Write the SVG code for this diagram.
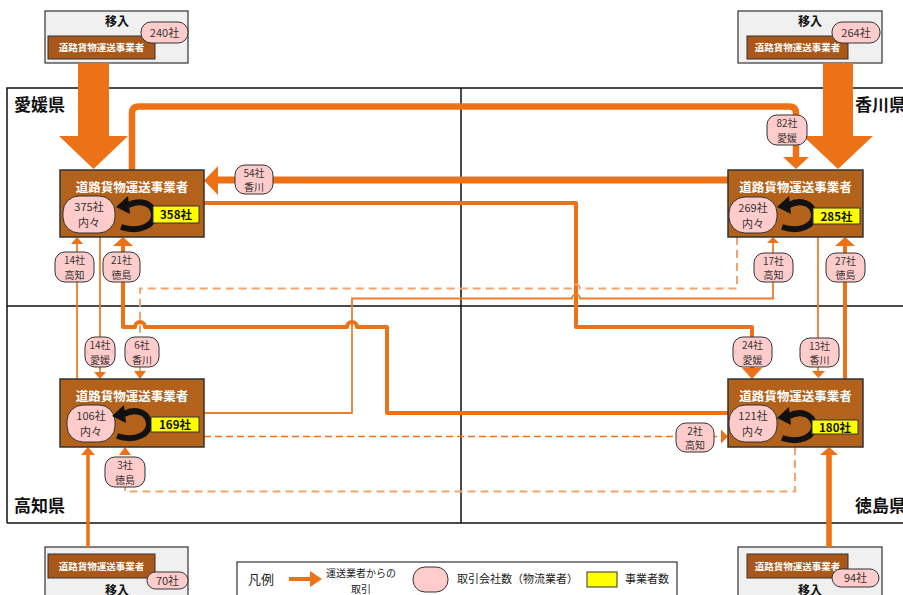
<svg xmlns="http://www.w3.org/2000/svg" width="903" height="595" viewBox="0 0 903 595">
<style>
text{font-family:"Noto Sans CJK JP","Noto Sans CJK SC",sans-serif}
.bg{fill:#fff}
.reg{fill:none;stroke:#111;stroke-width:1.5}
.rl{font-size:17px;font-weight:bold;fill:#111}
.imp{fill:#F0F0F0;stroke:#333;stroke-width:1.2}
.ib{fill:#A8581A;stroke:#333;stroke-width:1}
.it{font-size:9.5px;font-weight:bold;fill:#fff;text-anchor:middle}
.ih{font-size:12px;font-weight:bold;fill:#111;text-anchor:middle}
.node{fill:#B3621B;stroke:#333;stroke-width:1.5}
.title{fill:#fff;font-size:12.5px;font-weight:bold;text-anchor:middle}
.badge{fill:#FFCCCC;stroke:#333;stroke-width:1}
.bt{font-size:10px;fill:#333;text-anchor:middle}
.bi{font-size:11px;fill:#333;text-anchor:middle}
.yel{fill:#FFFF00;stroke:#333;stroke-width:1}
.cnt{font-size:11.5px;font-weight:bold;fill:#111;text-anchor:middle}
.loop{fill:none;stroke:#111;stroke-width:6}
.lh{fill:#111}
.ah{fill:#ED7117}
.s7{fill:none;stroke:#ED7117;stroke-width:7}
.s6{fill:none;stroke:#ED7117;stroke-width:6.5;stroke-linejoin:round}
.s4{fill:none;stroke:#ED7117;stroke-width:4;stroke-linejoin:round}
.s2{fill:none;stroke:#EE7D2A;stroke-width:1.8}
.dl{fill:none;stroke:#F4A36A;stroke-width:2;stroke-dasharray:8 5}
.dd{fill:none;stroke:#ED7117;stroke-width:1.5;stroke-dasharray:7 4}
.lg{font-size:11px;fill:#222}
</style>
<rect class="bg" x="0" y="0" width="903" height="595"/>

<g id="regions">
  <path class="reg" d="M7 523 V88 H905 M461 88 V523 M7 306 H905 M7 523 H905"/>
  <text class="rl" x="14" y="111">愛媛県</text>
  <text class="rl" x="855" y="111">香川県</text>
  <text class="rl" x="14" y="512">高知県</text>
  <text class="rl" x="855" y="512">徳島県</text>
</g>

<g id="import-ehime">
  <rect class="imp" x="45" y="11" width="143" height="52"/>
  <text class="ih" x="117" y="26">移入</text>
  <rect class="ib" x="48" y="36" width="107" height="23"/>
  <text class="it" x="101.5" y="51">道路貨物運送事業者</text>
  <rect class="badge" x="141" y="22" width="47" height="21" rx="10"/>
  <text class="bi" x="164.5" y="37">240社</text>
</g>
<g id="import-kagawa">
  <rect class="imp" x="738" y="11" width="144" height="52"/>
  <text class="ih" x="810" y="26">移入</text>
  <rect class="ib" x="747" y="36" width="101" height="23"/>
  <text class="it" x="797.5" y="51">道路貨物運送事業者</text>
  <rect class="badge" x="832" y="22" width="48" height="21" rx="10"/>
  <text class="bi" x="856" y="37">264社</text>
</g>
<g id="import-kochi">
  <rect class="imp" x="45" y="547" width="143" height="55"/>
  <rect class="ib" x="48" y="554" width="107" height="24"/>
  <text class="it" x="101.5" y="569.5">道路貨物運送事業者</text>
  <rect class="badge" x="147" y="572" width="41" height="17" rx="8.5"/>
  <text class="bi" x="167.5" y="584.5">70社</text>
  <text class="ih" x="117" y="595">移入</text>
</g>
<g id="import-tokushima">
  <rect class="imp" x="738" y="547" width="144" height="55"/>
  <rect class="ib" x="747" y="554" width="101" height="24"/>
  <text class="it" x="797.5" y="569.5">道路貨物運送事業者</text>
  <rect class="badge" x="832" y="569" width="47" height="18" rx="9"/>
  <text class="bi" x="855.5" y="582">94社</text>
  <text class="ih" x="810" y="595">移入</text>
</g>

<g id="connectors">
  <polygon class="ah" points="78,63 109,63 109,136 128,136 93.5,169 59,136 78,136"/>
  <polygon class="ah" points="823,63 853,63 853,136 873,136 838,169 803,136 823,136"/>

  <g id="c-ehime-kagawa">
    <path class="s6" d="M132 170 V113 Q132 106.5 139 106.5 H789 Q796 106.5 796 113 V158"/>
    <polygon class="ah" points="783,157 809,157 796,169"/>
    <rect class="badge" x="767" y="115" width="40" height="30" rx="10"/>
    <text class="bt" x="787" y="127">82社<tspan x="787" dy="14.5">愛媛</tspan></text>
  </g>
  <g id="c-kagawa-ehime">
    <path class="s7" d="M728 180 H217"/>
    <polygon class="ah" points="204,180.5 218,166 218,195"/>
    <rect class="badge" x="235" y="165" width="38" height="29" rx="10"/>
    <text class="bt" x="254" y="176.5">54社<tspan x="254" dy="14.5">香川</tspan></text>
  </g>
  <g id="c-ehime-tokushima">
    <path class="s4" d="M204 203 H576 V327 H752 V369"/>
    <polygon class="ah" points="742,368 762,368 752,379"/>
    <rect class="badge" x="733" y="337" width="39" height="30" rx="10"/>
    <text class="bt" x="752.5" y="349">24社<tspan x="752.5" dy="14.5">愛媛</tspan></text>
  </g>
  <g id="c-kagawa-kochi">
    <path class="dl" d="M737 237 V288.5 H580 A4 4 0 0 0 572 288.5 H140 V371"/>
    <polygon class="ah" points="134,371 146,371 140,379"/>
    <rect class="badge" x="125" y="337" width="34" height="30" rx="10"/>
    <text class="bt" x="142" y="349">6社<tspan x="142" dy="14.5">香川</tspan></text>
  </g>
  <g id="c-kochi-kagawa">
    <path class="s2" d="M204 413 H352 V298.5 H572 A4 4 0 0 1 580 298.5 H773 V243"/>
    <polygon class="ah" points="767,243 779,243 773,237"/>
    <rect class="badge" x="754" y="253" width="39" height="29" rx="10"/>
    <text class="bt" x="773.5" y="264.5">17社<tspan x="773.5" dy="14.5">高知</tspan></text>
  </g>
  <g id="c-tokushima-ehime">
    <path class="s4" d="M728 413 H387 V327 H357 A5 5 0 0 0 347 327 H145 A5 5 0 0 0 135 327 H123 V245"/>
    <polygon class="ah" points="113,246 133,246 123,237"/>
    <rect class="badge" x="103" y="252" width="37" height="30" rx="10"/>
    <text class="bt" x="121.5" y="264">21社<tspan x="121.5" dy="14.5">徳島</tspan></text>
  </g>
  <g id="c-kochi-ehime">
    <path class="s2" d="M77 379 V243"/>
    <polygon class="ah" points="71,244 83,244 77,237"/>
    <rect class="badge" x="55" y="252" width="39" height="30" rx="10"/>
    <text class="bt" x="74.5" y="264">14社<tspan x="74.5" dy="14.5">高知</tspan></text>
  </g>
  <g id="c-ehime-kochi">
    <path class="s2" d="M100 237 V372"/>
    <polygon class="ah" points="94,372 106,372 100,379"/>
    <rect class="badge" x="85" y="337" width="30" height="30" rx="10"/>
    <text class="bt" x="100" y="349">14社<tspan x="100" dy="14.5">愛媛</tspan></text>
  </g>
  <g id="c-kagawa-tokushima">
    <path class="s2" d="M818 237 V372"/>
    <polygon class="ah" points="812,371 825,371 818.5,378"/>
    <rect class="badge" x="800" y="338" width="39" height="29" rx="10"/>
    <text class="bt" x="819.5" y="349.5">13社<tspan x="819.5" dy="14.5">香川</tspan></text>
  </g>
  <g id="c-tokushima-kagawa">
    <path class="s4" d="M845 379 V245"/>
    <polygon class="ah" points="835,246 855,246 845,237"/>
    <rect class="badge" x="826" y="253" width="39" height="29" rx="10"/>
    <text class="bt" x="845.5" y="264.5">27社<tspan x="845.5" dy="14.5">徳島</tspan></text>
  </g>
  <g id="c-kochi-tokushima">
    <path class="dd" d="M204 436.5 H722"/>
    <polygon class="ah" points="721,429.5 721,443.5 728,436.5"/>
    <rect class="badge" x="676" y="423" width="38" height="29" rx="10"/>
    <text class="bt" x="695" y="434.5">2社<tspan x="695" dy="14.5">高知</tspan></text>
  </g>
  <g id="c-tokushima-kochi">
    <path class="dl" d="M795 447 V491.5 H125 V455"/>
    <polygon class="ah" points="119,455 131,455 125,447"/>
    <rect class="badge" x="105" y="457" width="40" height="30" rx="10"/>
    <text class="bt" x="125" y="469">3社<tspan x="125" dy="14.5">徳島</tspan></text>
  </g>
  <g id="c-import-kochi">
    <path class="s4" style="stroke-width:3.5" d="M88 547 V454"/>
    <polygon class="ah" points="81,455 95,455 88,447"/>
  </g>
  <g id="c-import-tokushima">
    <path class="s4" style="stroke-width:5.5" d="M829 547 V454"/>
    <polygon class="ah" points="820,455 838,455 829,447"/>
  </g>
</g>

<g id="node-ehime">
  <rect class="node" x="60" y="170" width="144" height="67"/>
  <text class="title" x="132" y="192">道路貨物運送事業者</text>
  <rect class="badge" x="63" y="196" width="52" height="37" rx="16"/>
  <text class="bi" x="89" y="211">375社<tspan x="89" dy="16">内々</tspan></text>
  <path class="loop" d="M121 227 C140 233 155 225 154 214 C153 203 140 199 128 205"/>
  <polygon class="lh" points="116,207 128,196 130,214"/>
  <rect class="yel" x="153" y="206" width="46" height="17"/>
  <text class="cnt" x="176" y="219">358社</text>
</g>
<g id="node-kagawa">
  <rect class="node" x="728" y="170" width="135" height="67"/>
  <text class="title" x="795.5" y="192">道路貨物運送事業者</text>
  <rect class="badge" x="729" y="197" width="48" height="36" rx="16"/>
  <text class="bi" x="753" y="212">269社<tspan x="753" dy="16">内々</tspan></text>
  <path class="loop" d="M782 227 C801 233 815 225 814 214 C813 203 800 199 789 205"/>
  <polygon class="lh" points="777,207 789,196 791,214"/>
  <rect class="yel" x="813" y="208" width="47" height="16"/>
  <text class="cnt" x="836.5" y="220.5">285社</text>
</g>
<g id="node-kochi">
  <rect class="node" x="60" y="379" width="144" height="68"/>
  <text class="title" x="132" y="401">道路貨物運送事業者</text>
  <rect class="badge" x="67" y="405" width="48" height="37" rx="16"/>
  <text class="bi" x="91" y="420">106社<tspan x="91" dy="16">内々</tspan></text>
  <path class="loop" d="M117 436 C136 442 150 434 149 423 C148 412 135 408 124 414"/>
  <polygon class="lh" points="112,416 124,405 126,423"/>
  <rect class="yel" x="151" y="417" width="48" height="15"/>
  <text class="cnt" x="175" y="429">169社</text>
</g>
<g id="node-tokushima">
  <rect class="node" x="728" y="379" width="135" height="68"/>
  <text class="title" x="795.5" y="401">道路貨物運送事業者</text>
  <rect class="badge" x="729" y="405" width="48" height="37" rx="16"/>
  <text class="bi" x="753" y="420">121社<tspan x="753" dy="16">内々</tspan></text>
  <path class="loop" d="M782 438 C801 444 815 436 814 425 C813 414 800 410 789 416"/>
  <polygon class="lh" points="777,418 789,407 791,425"/>
  <rect class="yel" x="812" y="420" width="46" height="14"/>
  <text class="cnt" x="835" y="431.5">180社</text>
</g>

<g id="legend">
  <rect x="237" y="562" width="440" height="40" fill="#fff" stroke="#333" stroke-width="1.2"/>
  <text x="248" y="584" font-size="13" fill="#222">凡例</text>
  <path d="M289 579 H311" stroke="#ED7117" stroke-width="4"/>
  <polygon class="ah" points="310,571 322,579 310,587"/>
  <text class="lg" x="361" y="577" text-anchor="middle" style="font-size:10px">運送業者からの<tspan x="361" dy="16">取引</tspan></text>
  <rect class="badge" x="413" y="567" width="35" height="25" rx="12"/>
  <text class="lg" x="457" y="583">取引会社数（物流業者）</text>
  <rect class="yel" x="587" y="572" width="30" height="15"/>
  <text class="lg" x="625" y="583">事業者数</text>
</g>
</svg>
